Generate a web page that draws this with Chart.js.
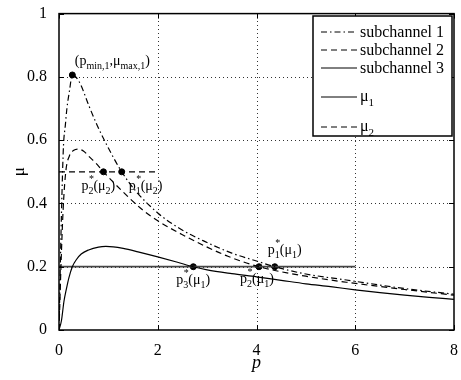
<!DOCTYPE html>
<html>
<head>
<meta charset="utf-8">
<script src="https://cdn.jsdelivr.net/npm/chart.js@4"></script>
<style>
  html, body { margin: 0; padding: 0; background: #fff; }
  #wrap { width: 461px; height: 380px; }
</style>
</head>
<body>
<div id="wrap"><canvas id="c" width="461" height="380"></canvas></div>
<script>
// values
const sub1P  = [0, 0.02, 0.04, 0.06, 0.09, 0.13, 0.16, 0.21, 0.27, 0.35, 0.44, 0.61, 0.77, 1.0, 1.27, 1.55, 2, 2.42, 2.95, 3.5, 4, 4.37, 5, 5.82, 7, 8]
const sub1Mu = [0, 0.15, 0.3, 0.43, 0.58, 0.65, 0.70, 0.754, 0.806, 0.798, 0.775, 0.707, 0.648, 0.575, 0.5, 0.44, 0.37, 0.323, 0.28, 0.243, 0.218, 0.2, 0.177, 0.158, 0.131, 0.113]

const sub2P  = [0, 0.02, 0.05, 0.09, 0.14, 0.21, 0.3, 0.39, 0.5, 0.61, 0.75, 0.9, 1.29, 1.69, 2, 2.49, 3, 3.42, 4.05, 5, 5.82, 7, 8]
const sub2Mu = [0, 0.1, 0.25, 0.4, 0.504, 0.55, 0.568, 0.572, 0.565, 0.548, 0.527, 0.5, 0.4375, 0.38, 0.345, 0.302, 0.262, 0.233, 0.2, 0.17, 0.151, 0.128, 0.11]

const sub3P  = [0, 0.05, 0.1, 0.15, 0.2, 0.27, 0.35, 0.45, 0.6, 0.8, 0.95, 1.1, 1.3, 1.6, 2, 2.4, 2.72, 3, 3.5, 4, 4.5, 5, 5.5, 6, 6.5, 7, 7.5, 8]
const sub3Mu = [0, 0.03, 0.09, 0.13, 0.165, 0.2, 0.222, 0.24, 0.253, 0.262, 0.264, 0.263, 0.258, 0.247, 0.231, 0.214, 0.2, 0.19, 0.178, 0.168, 0.157, 0.146, 0.137, 0.127, 0.118, 0.11, 0.103, 0.097]

const mu1P = [0, 6], mu1Val = [0.2, 0.2]
const mu2P = [0, 2], mu2Val = [0.5, 0.5]

// marked points and their labels
const markP  = [0.27, 0.9, 1.27, 2.72, 4.05, 4.37]
const markMu = [0.806, 0.5, 0.5, 0.2, 0.2, 0.2]

const xTicks = [0, 2, 4, 6, 8]
const yTicks = [0, 0.2, 0.4, 0.6, 0.8, 1]
const legendNames = ['subchannel 1', 'subchannel 2', 'subchannel 3', 'μ1', 'μ2']

const SERIF = '"Liberation Serif", "Times New Roman", serif'
const DASHDOT = [6, 3, 1.5, 3]
const DASHED = [6, 4]

function pts(xs, ys) {
  return xs.map((x, i) => ({ x: x, y: ys[i] }))
}

// rich text: parts of {t, sub, star}
function drawRich(ctx, x, y, parts, size) {
  let cx = x
  const small = Math.round(size * 0.7)
  ctx.textBaseline = 'alphabetic'
  ctx.textAlign = 'left'
  parts.forEach(function (pt) {
    if (pt.sub) {
      ctx.font = small + 'px ' + SERIF
      let w = ctx.measureText(pt.t).width
      if (pt.star) {
        let sw = ctx.measureText('*').width
        ctx.fillText('*', cx + (w - sw) / 2 + 0.5, y - size * 0.55)
      }
      ctx.fillText(pt.t, cx, y + size * 0.3)
      cx += w
    } else {
      ctx.font = size + 'px ' + SERIF
      ctx.fillText(pt.t, cx, y)
      cx += ctx.measureText(pt.t).width
    }
  })
}

const labelParts = [
  [{t: '(p'}, {t: 'min,1', sub: true}, {t: ',μ'}, {t: 'max,1', sub: true}, {t: ')'}],
  [{t: 'p'}, {t: '2', sub: true, star: true}, {t: '(μ'}, {t: '2', sub: true}, {t: ')'}],
  [{t: 'p'}, {t: '1', sub: true, star: true}, {t: '(μ'}, {t: '2', sub: true}, {t: ')'}],
  [{t: 'p'}, {t: '3', sub: true, star: true}, {t: '(μ'}, {t: '1', sub: true}, {t: ')'}],
  [{t: 'p'}, {t: '2', sub: true, star: true}, {t: '(μ'}, {t: '1', sub: true}, {t: ')'}],
  [{t: 'p'}, {t: '1', sub: true, star: true}, {t: '(μ'}, {t: '1', sub: true}, {t: ')'}]
]
const labelOffset = [[2.5, -10], [-22, 18], [7, 18], [-17, 17], [-19, 16], [-7, -13]]

const dottedGrid = {
  id: 'dottedGrid',
  beforeDatasetsDraw(chart) {
    const ctx = chart.ctx
    const a = chart.chartArea
    const xs = chart.scales.x, ys = chart.scales.y
    ctx.save()
    ctx.strokeStyle = '#333'
    ctx.lineWidth = 1
    ctx.setLineDash([1, 3])
    ctx.beginPath()
    xTicks.slice(1, -1).forEach(function (v) {
      let px = Math.round(xs.getPixelForValue(v)) + 0.5
      ctx.moveTo(px, a.bottom); ctx.lineTo(px, a.top)
    })
    yTicks.slice(1, -1).forEach(function (v) {
      let py = Math.round(ys.getPixelForValue(v)) + 0.5
      ctx.moveTo(a.left, py); ctx.lineTo(a.right, py)
    })
    ctx.stroke()
    ctx.restore()
  }
}

const overlay = {
  id: 'overlay',
  afterDraw(chart) {
    const ctx = chart.ctx
    const a = chart.chartArea
    const xs = chart.scales.x, ys = chart.scales.y
    ctx.save()
    ctx.fillStyle = '#000'
    ctx.strokeStyle = '#000'

    // inward ticks
    ctx.lineWidth = 1
    ctx.beginPath()
    xTicks.forEach(function (v) {
      let px = Math.round(xs.getPixelForValue(v)) + 0.5
      ctx.moveTo(px, a.bottom); ctx.lineTo(px, a.bottom - 5)
      ctx.moveTo(px, a.top); ctx.lineTo(px, a.top + 5)
    })
    yTicks.forEach(function (v) {
      let py = Math.round(ys.getPixelForValue(v)) + 0.5
      ctx.moveTo(a.left, py); ctx.lineTo(a.left + 5, py)
      ctx.moveTo(a.right, py); ctx.lineTo(a.right - 5, py)
    })
    ctx.stroke()

    // frame
    ctx.lineWidth = 1.5
    ctx.strokeRect(a.left, a.top, a.right - a.left, a.bottom - a.top)

    // point labels
    markP.forEach(function (p, i) {
      let px = xs.getPixelForValue(p), py = ys.getPixelForValue(markMu[i])
      drawRich(ctx, px + labelOffset[i][0], py + labelOffset[i][1], labelParts[i], 14)
    })

    // axis titles
    ctx.font = 'italic 18px ' + SERIF
    ctx.textAlign = 'center'
    ctx.textBaseline = 'alphabetic'
    ctx.fillText('p', (a.left + a.right) / 2, 368)
    ctx.save()
    ctx.translate(24, (a.top + a.bottom) / 2)
    ctx.rotate(-Math.PI / 2)
    ctx.font = '17px ' + SERIF
    ctx.fillText('μ', 0, 0)
    ctx.restore()

    // legend
    const lx = 313, ly = 16, lw = 139, lh = 120
    ctx.fillStyle = '#fff'
    ctx.fillRect(lx, ly, lw, lh)
    ctx.fillStyle = '#000'
    ctx.lineWidth = 1.5
    ctx.strokeRect(lx, ly, lw, lh)
    const rowY = [32, 50, 68, 97, 127]
    const dashes = [DASHDOT, DASHED, [], [], DASHED]
    ctx.lineWidth = 1
    rowY.forEach(function (y, i) {
      ctx.setLineDash(dashes[i])
      ctx.beginPath()
      ctx.moveTo(321, y); ctx.lineTo(357, y)
      ctx.stroke()
    })
    ctx.setLineDash([])
    ctx.font = '16px ' + SERIF
    ctx.textAlign = 'left'
    ctx.textBaseline = 'middle'
    for (let i = 0; i < 3; i++) ctx.fillText(legendNames[i], 360, rowY[i] + 1)
    drawRich(ctx, 360, rowY[3] + 4, [{t: 'μ'}, {t: legendNames[3].slice(1), sub: true}], 16)
    drawRich(ctx, 360, rowY[4] + 4, [{t: 'μ'}, {t: legendNames[4].slice(1), sub: true}], 16)

    ctx.restore()
  }
}

const curve = function (label, xs, ys, dash, width, color) {
  return {
    label: label,
    data: pts(xs, ys),
    showLine: true,
    borderColor: color || '#000',
    borderWidth: width || 1.2,
    borderDash: dash,
    pointRadius: 0,
    cubicInterpolationMode: 'monotone',
    fill: false
  }
}

new Chart(document.getElementById('c'), {
  type: 'scatter',
  data: {
    datasets: [
      curve(legendNames[0], sub1P, sub1Mu, DASHDOT),
      curve(legendNames[1], sub2P, sub2Mu, DASHED),
      curve(legendNames[2], sub3P, sub3Mu, []),
      curve(legendNames[3], mu1P, mu1Val, [], 1.8, '#444'),
      curve(legendNames[4], mu2P, mu2Val, DASHED, 1.2),
      {
        label: 'points',
        data: pts(markP, markMu),
        pointRadius: 3,
        pointBackgroundColor: '#000',
        pointBorderColor: '#000',
        showLine: false
      }
    ]
  },
  options: {
    responsive: false,
    animation: false,
    events: [],
    layout: { padding: { left: 0, right: 3, top: 10, bottom: 0 } },
    plugins: { legend: { display: false }, tooltip: { enabled: false } },
    scales: {
      x: {
        type: 'linear', min: 0, max: 8,
        afterFit: function (s) { s.height = 50 },
        ticks: { stepSize: 2, padding: 3, color: '#000', font: { family: SERIF, size: 16 } },
        grid: { display: false },
        border: { display: false }
      },
      y: {
        min: 0, max: 1,
        afterFit: function (s) { s.width = 59 },
        ticks: {
          stepSize: 0.2, padding: 4, color: '#000', font: { family: SERIF, size: 16 },
          callback: function (v) { return (v < 1e-9 || Math.abs(v - 1) < 1e-9) ? String(Math.round(v)) : v.toFixed(1) }
        },
        grid: { display: false },
        border: { display: false }
      }
    }
  },
  plugins: [dottedGrid, overlay]
})
</script>
</body>
</html>
